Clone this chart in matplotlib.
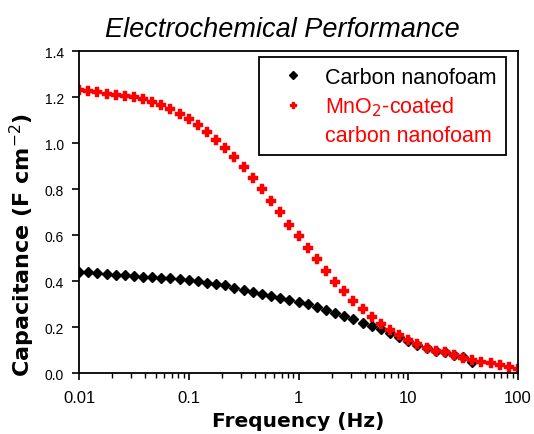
import matplotlib
matplotlib.use("Agg")
import matplotlib.pyplot as plt
from matplotlib.lines import Line2D
from matplotlib.ticker import FixedLocator, FixedFormatter, LogLocator, NullFormatter

plt.rcParams['font.family'] = ['Liberation Sans', 'DejaVu Sans']

freq = [0.01, 0.0121, 0.0147, 0.0178, 0.0215, 0.0261, 0.0316, 0.0383, 0.0464, 0.0562, 0.0681, 0.0825,
        0.1, 0.121, 0.147, 0.178, 0.215, 0.261, 0.316, 0.383, 0.464, 0.562, 0.681, 0.825,
        1.0, 1.21, 1.47, 1.78, 2.15, 2.61, 3.16, 3.83, 4.64, 5.62, 6.81, 8.25,
        10, 12.1, 14.7, 17.8, 21.5, 26.1, 31.6, 38.3, 46.4, 56.2, 68.1, 82.5, 100]

mno2_cap = [1.232, 1.228, 1.222, 1.216, 1.211, 1.206, 1.200, 1.192, 1.180, 1.165, 1.148, 1.128,
            1.105, 1.078, 1.048, 1.015, 0.980, 0.940, 0.895, 0.850, 0.800, 0.750, 0.700, 0.645,
            0.595, 0.545, 0.495, 0.445, 0.398, 0.355, 0.315, 0.280, 0.245, 0.215, 0.188, 0.165,
            0.145, 0.125, 0.108, 0.098, 0.092, 0.080, 0.065, 0.058, 0.050, 0.045, 0.036, 0.028, 0.020]

carbon_freq = freq[:44]
carbon_cap = [0.440, 0.438, 0.435, 0.432, 0.428, 0.425, 0.422, 0.419, 0.417, 0.415, 0.413, 0.410,
              0.406, 0.400, 0.394, 0.388, 0.381, 0.372, 0.362, 0.352, 0.343, 0.335, 0.327, 0.318,
              0.310, 0.300, 0.288, 0.275, 0.262, 0.248, 0.234, 0.220, 0.205, 0.190, 0.175, 0.158,
              0.140, 0.122, 0.108, 0.096, 0.090, 0.080, 0.068, 0.048]

xticks = [0.01, 0.1, 1, 10, 100]
xtick_labels = ['0.01', '0.1', '1', '10', '100']
yticks = [0.0, 0.2, 0.4, 0.6, 0.8, 1.0, 1.2, 1.4]

fig = plt.figure(figsize=(5.34, 4.35), dpi=100)
ax = fig.add_axes([0.148, 0.140, 0.822, 0.740])

ax.plot(carbon_freq, carbon_cap, linestyle='none', marker='D', markersize=5.5,
        color='black')
ax.plot(freq, mno2_cap, linestyle='none', marker='P', markersize=7,
        color='red', markeredgewidth=0.3)

ax.set_xscale('log')
ax.set_xlim(0.01, 100)
ax.set_ylim(0, 1.4)
ax.xaxis.set_major_locator(FixedLocator(xticks))
ax.xaxis.set_major_formatter(FixedFormatter(xtick_labels))
ax.xaxis.set_minor_locator(LogLocator(base=10, subs=range(2, 10)))
ax.xaxis.set_minor_formatter(NullFormatter())
ax.set_yticks(yticks)
ax.set_yticklabels(['%.1f' % v for v in yticks])

for sp in ax.spines.values():
    sp.set_linewidth(1.3)
ax.tick_params(which='major', direction='out', length=5, width=1.2)
ax.tick_params(axis='x', labelsize=12, pad=7)
ax.tick_params(axis='y', labelsize=10, pad=6)
ax.tick_params(which='minor', direction='out', length=3.5, width=1.0)

ax.set_xlabel('Frequency (Hz)', fontsize=14.5, fontweight='bold', family='DejaVu Sans')
ax.xaxis.set_label_coords(0.5, -0.118)
ax.set_ylabel('Capacitance (F cm$^{-2}$)', fontsize=16, fontweight='bold', family='DejaVu Sans')
ax.yaxis.set_label_coords(-0.0957, 0.40)

fig.text(282 / 534, 1 - 37 / 435, 'Electrochemical Performance', fontsize=19.5,
         fontstyle='italic', ha='center', va='baseline')

handles = [Line2D([], [], linestyle='none', marker='D', markersize=4, color='black'),
           Line2D([], [], linestyle='none', marker='P', markersize=5, color='red'),
           Line2D([], [], linestyle='none', marker='none')]
labels = ['Carbon nanofoam', 'MnO$_2$-coated', 'carbon nanofoam']
leg = ax.legend(handles, labels, loc='upper right', bbox_to_anchor=(0.973, 0.981),
                fancybox=False, edgecolor='black', framealpha=1, fontsize=15.5,
                handletextpad=0.4, borderpad=0.45, labelspacing=0.3, handlelength=2.2,
                borderaxespad=0)
leg.get_frame().set_linewidth(1.3)
leg.get_texts()[1].set_color('red')
leg.get_texts()[2].set_color('red')

fig.savefig('out.png', dpi=100)
